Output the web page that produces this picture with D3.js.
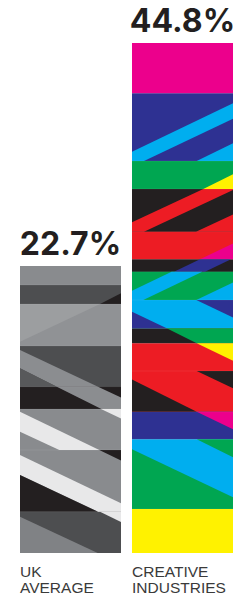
<!DOCTYPE html>
<html><head><meta charset="utf-8">
<script src="https://cdn.jsdelivr.net/npm/d3@7"></script>
<style>html,body{margin:0;padding:0;background:#fff;}svg{display:block}</style>
</head><body>
<svg id="chart" width="244" height="597"></svg>
<script>
// ---------- data ----------
const categories = ["UK AVERAGE", "CREATIVE INDUSTRIES"];
const categoryLines = [["UK", "AVERAGE"], ["CREATIVE", "INDUSTRIES"]];
const values = [22.7, 44.8];
const valueLabels = ["22.7%", "44.8%"];

// ---------- decorative fill textures (bar-local design units) ----------
const C = {mag:"#ec008c", navy:"#2e3192", cyan:"#00aeef", green:"#00a651",
           yel:"#fff200", red:"#ed1c24", blk:"#231f20"};
const G = {mid:"#898b8e", dark:"#4d4e50", light:"#9c9ea0", base3:"#909295",
           stripe:"#8b8d90", wedge:"#58595b", blk:"#231f20", white:"#e8e8e9", low:"#808285"};

const creativeTexture = {
  w: 101, h: 510,
  bands: [[0,50.3,C.mag],[50.3,118,C.navy],[118,146,C.green],[146,188.7,C.blk],
          [188.7,216.3,C.red],[216.3,228.7,C.blk],[228.7,257,C.green],[257,285.3,C.cyan],
          [285.3,300.3,C.blk],[300.3,328,C.red],[328,368.7,C.red],[368.7,396.3,C.navy],
          [396.3,466,C.cyan],[466,510,C.yel]],
  shapes: [
    [C.cyan, [[0,108.7],[101,60.3],[101,75.7],[12,118],[0,118]]],
    [C.cyan, [[64.7,118],[101,100.3],[101,118]]],
    [C.yel,  [[71.3,146],[101,131.3],[101,146]]],
    [C.red,  [[71.3,146],[101,146],[101,147],[12,188.7],[0,188.7],[0,179.3]]],
    [C.red,  [[64,188.7],[101,171.5],[101,188.7]]],
    [C.mag,  [[68,216.3],[101,200.5],[101,216.3]]],
    [C.navy, [[42,228.7],[68,216.3],[99,216.3],[73,228.7]]],
    [C.cyan, [[0,247.7],[39.6,228.7],[70.3,228.7],[11.3,257],[0,257]]],
    [C.cyan, [[64.3,257],[101,239.4],[101,257]]],
    [C.navy, [[64.3,257],[101,257],[101,274.6]]],
    [C.navy, [[0,268.7],[0,285.3],[34.7,285.3]]],
    [C.green,[[34.7,285.3],[101,285.3],[101,300.3],[64.7,300.3]]],
    [C.yel,  [[64.7,300.3],[101,300.3],[101,317.7]]],
    [C.blk,  [[64.7,328],[101,328],[101,345.3]]],
    [C.blk,  [[0,336.4],[64.7,368.7],[0,368.7]]],
    [C.mag,  [[64.7,368.7],[101,368.7],[101,386.3]]],
    [C.green,[[64.7,396.3],[101,396.3],[101,414.3]]],
    [C.green,[[0,406.3],[101,454.3],[101,466],[0,466]]]
  ]
};

const ukTexture = {
  w: 101, h: 287,
  bands: [[0,19,G.mid],[19,38,G.dark],[38,80,G.base3],[80,120.7,G.dark],
          [120.7,143,G.blk],[143,184,G.mid],[184,245.7,G.mid],[245.7,287,G.dark]],
  shapes: [
    [G.blk,   [[80,38],[101,27.3],[101,38]]],
    [G.light, [[0,38],[80,38],[0,75.7]]],
    [G.stripe,[[0,84],[78,120.7],[36.8,120.7],[0,102.3]]],
    [G.wedge, [[0,102.3],[36.8,120.7],[0,120.7]]],
    [G.stripe,[[36.8,120.7],[78,120.7],[101,131.5],[101,143],[81.4,143]]],
    [G.white, [[0,145.7],[79.3,184],[39.3,184],[0,165.7]]],
    [G.white, [[81,143],[101,143],[101,152.5]]],
    [G.blk,   [[79.3,184],[101,184],[101,194.5]]],
    [G.white, [[0,189],[101,237.3],[101,245.7],[78,245.7],[0,209]]],
    [G.blk,   [[0,209],[78,245.7],[0,245.7]]],
    [G.white, [[80,245.7],[101,245.7],[101,256]]],
    [G.low,   [[0,250.7],[77.7,287],[0,287]]]
  ]
};
const textures = [ukTexture, creativeTexture];

// ---------- chart ----------
const svg = d3.select("#chart");
const x = d3.scaleBand().domain(categories).range([20, 233])
  .paddingInner(11 / 112).paddingOuter(0);
const y = d3.scaleLinear().domain([-5.74, 44.8]).range([553, 43]);
const base = y(y.domain()[0]);
const ink = "#231f20";

categories.forEach((cat, i) => {
  const x0 = x(cat), x1 = x0 + x.bandwidth(), top = y(values[i]);
  const t = textures[i];
  const lx = d3.scaleLinear().domain([0, t.w]).range([x0, x1]);
  const ly = d3.scaleLinear().domain([0, t.h]).range([top, base]);
  const id = "clip" + i;
  svg.append("clipPath").attr("id", id).append("rect")
    .attr("x", x0).attr("y", top).attr("width", x1 - x0).attr("height", base - top);
  const g = svg.append("g").attr("clip-path", `url(#${id})`);
  g.selectAll("rect.band").data(t.bands).join("rect").attr("class", "band")
    .attr("x", x0).attr("width", x1 - x0)
    .attr("y", d => ly(d[0])).attr("height", d => ly(d[1]) - ly(d[0]) + 0.3)
    .attr("fill", d => d[2]);
  const line = d3.line().x(p => lx(p[0])).y(p => ly(p[1]));
  g.selectAll("path.shape").data(t.shapes).join("path").attr("class", "shape")
    .attr("d", d => line(d[1]) + "Z").attr("fill", d => d[0]);
  // faint seams between bands
  g.selectAll("line.seam").data(t.bands.slice(1)).join("line").attr("class", "seam")
    .attr("x1", x0).attr("x2", x1).attr("y1", d => ly(d[0])).attr("y2", d => ly(d[0]))
    .attr("stroke", "#fff").attr("stroke-opacity", 0.12).attr("stroke-width", 0.6);

  svg.append("text").attr("x", (x0 + x1) / 2).attr("y", top - 11)
    .attr("text-anchor", "middle").attr("fill", ink)
    .style("font-family", "Inter, 'DejaVu Sans', sans-serif")
    .style("font-weight", 700).style("font-size", "32px")
    .text(valueLabels[i]);

  const lab = svg.append("text").attr("x", x0).attr("fill", "#3a3a3a")
    .style("font-family", "'Liberation Sans', Arial, sans-serif")
    .style("font-size", "15.5px");
  categoryLines[i].forEach((s, k) => {
    lab.append("tspan").attr("x", x0).attr("y", base + 24 + k * 16).text(s);
  });
});
</script>
</body></html>
